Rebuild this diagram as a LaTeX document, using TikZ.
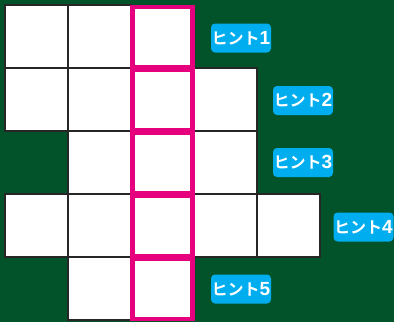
\documentclass[tikz,border=0pt]{standalone}
\usepackage{fontspec}
\newfontfamily\jpfont{Noto Sans CJK JP Bold}
\newfontfamily\numfont{Liberation Sans Bold}
\newcommand{\hnum}[1]{{\numfont\fontsize{19pt}{20pt}\selectfont #1}}
\definecolor{bggreen}{RGB}{3,83,42}
\definecolor{hintblue}{RGB}{0,174,239}
\definecolor{pinkline}{RGB}{230,0,126}
\tikzset{
  cell/.style={draw=black!85, line width=2.2pt, fill=white, minimum size=63pt, inner sep=0pt, outer sep=0pt},
  pinkcell/.style={draw=pinkline, line width=4.2pt, fill=white, minimum size=60pt, inner sep=0pt, outer sep=0pt},
  hint/.style={fill=hintblue, rounded corners=4pt, minimum width=60pt, minimum height=29pt, inner sep=0pt, text=white, font=\jpfont\fontsize{16pt}{18pt}\selectfont}
}
\begin{document}
\begin{tikzpicture}[x=1pt,y=-1pt]
\fill[bggreen] (0,0) rectangle (394,322);
\useasboundingbox (0,0) rectangle (394,322);
% row 1
\node[cell] (r1c0) at (36.5,36.5) {};
\node[cell] (r1c1) at (99.5,36.5) {};
% row 2
\node[cell] (r2c0) at (36.5,99.5) {};
\node[cell] (r2c1) at (99.5,99.5) {};
\node[cell] (r2c3) at (225.5,99.5) {};
% row 3
\node[cell] (r3c1) at (99.5,162.5) {};
\node[cell] (r3c3) at (225.5,162.5) {};
% row 4
\node[cell] (r4c0) at (36.5,225.5) {};
\node[cell] (r4c1) at (99.5,225.5) {};
\node[cell] (r4c3) at (225.5,225.5) {};
\node[cell] (r4c4) at (288.5,225.5) {};
% row 5
\node[cell] (r5c1) at (99.5,288.5) {};
% pink column
\node[pinkcell] (p1) at (162.5,37) {};
\node[pinkcell] (p2) at (162.5,100) {};
\node[pinkcell] (p3) at (162.5,163) {};
\node[pinkcell] (p4) at (162.5,226) {};
\node[pinkcell] (p5) at (162.5,289) {};
% hints
\node[hint] (h1) at (241,38) {ヒント\hnum{1}};
\node[hint] (h2) at (303,100.5) {ヒント\hnum{2}};
\node[hint] (h3) at (303,162.5) {ヒント\hnum{3}};
\node[hint] (h4) at (363.5,227) {ヒント\hnum{4}};
\node[hint] (h5) at (241,289) {ヒント\hnum{5}};
\end{tikzpicture}
\end{document}
